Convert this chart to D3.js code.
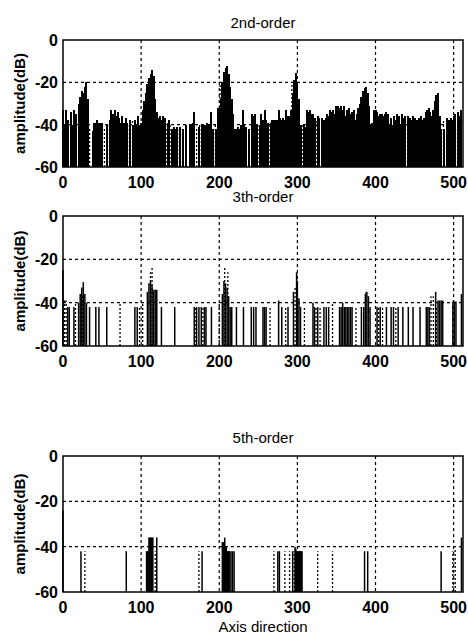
<!DOCTYPE html>
<html>
<head>
<meta charset="utf-8">
<script src="https://cdn.jsdelivr.net/npm/d3@7.9.0/dist/d3.min.js"></script>
<style>
  body { margin: 0; background: #fff; }
  svg { display: block; }
  text { font-family: "Liberation Sans", Arial, sans-serif; fill: #000; }
</style>
</head>
<body>
<svg id="chart" width="468" height="640"></svg>
<script>
// tick labels
const xTicks = [0, 100, 200, 300, 400, 500];
const yTicks = [0, -20, -40, -60];

// 2nd-order, solid stems, one value every 2 bins (null = no stem)
const order2Solid = [
  -33, -40, -33, -38, null, -34, -40, -33, -35, null,
  -30, -27, -24, -25, -22, -20, -28, null, null, -43,
  -39, -39, -38, -39, -39, -39, null, null, -40, null,
  -38, -33, -35, -33, -36, -34, -37, -39, -36, -39,
  -37, -39, null, -38, null, -40, -38, -40, -36, -40,
  -39, -33, -29, -25, -21, -18, -16, -14, -17, -28,
  -34, -37, -36, -38, -36, -37, null, -39, -38, null,
  -42, -41, -42, -41, null, -41, null, -42, null, -40,
  null, -40, -40, -39, -34, null, null, -41, null, -40,
  -40, -40, -39, -40, -40, -34, -42, null, -42, -32,
  -32, -28, -20, -15, -13, -12.5, -16, -22, -28, -35,
  -42, -42, -41, -42, -40, -33, -40, -41, null, -42,
  null, -35, -36, -35, -40, null, -40, -35, -38, -33,
  -38, -39, null, -39, -38, -38, -38, -38, -33, -37,
  -38, -37, -38, -33, -36, -36, -33, -25, -19, -15.5,
  -20, -28, -40, null, -40, -41, -33, -34, -33, -35,
  -35, -37, null, -36, -37, null, -37, -38, -37, -35,
  -36, -33, -34, -33, -35, -31, -31, -32, -31, -33,
  -31, -36, -33, -32, -35, -34, -33, -38, -35, -32,
  -30, -27, -24, -22.5, -22, -25, -31, -40, -39, -33,
  -33, -34, -36, -35, -35, -36, -35, -34, -35, -40,
  -37, -40, -36, -38, -35, -36, -40, -35, -37, -36,
  null, -36, -37, -38, -36, -37, -38, -38, -37, -36,
  -38, -37, -34, -33, -32, -34, -36, -33, -29, -26,
  -25, -36, -42, null, -42, null, -37, -38, -37, -38,
  -36, -35, null, -34, -36, -33
];
// 2nd-order, dotted stems [bin, dB]
const order2Dotted = [
  [14, -37], [17, -40], [34, -42], [53, -41], [57, -40], [85, -40], [89, -38],
  [105, -35], [107, -31], [133, -41], [137, -40], [149, -42], [153, -41],
  [157, -42], [171, -41], [175, -40], [195, -40], [201, -21], [245, -38],
  [251, -40], [265, -39], [287, -40], [293, -20], [307, -40], [325, -38],
  [331, -38], [401, -38], [413, -40], [441, -36], [447, -38], [475, -33],
  [487, -38], [501, -36], [505, -40]
];

// 3th-order
const order3Solid = [
  [0, -25], [6, -42], [8, -42], [14, -42], [20, -40], [22, -36], [24, -33],
  [26, -30.5], [28, -36], [30, -40], [34, -42], [42, -42], [46, -42], [56, -42],
  [92, -42], [95, -42], [108, -35], [110, -31], [112, -30], [114, -32],
  [116, -34], [118, -34], [120, -34], [126, -42], [143, -42], [168, -42],
  [171, -42], [174, -42], [177, -42], [181, -42], [183, -42], [190, -42],
  [204, -36], [206, -30], [208, -31], [210, -33], [212, -37], [214, -42],
  [216, -42], [222, -42], [231, -42], [241, -42], [244, -42], [247, -42],
  [256, -42], [258, -42], [260, -42], [276, -39], [280, -42], [288, -42],
  [295, -35], [299, -26], [300, -30], [302, -38], [304, -42], [320, -40],
  [322, -42], [326, -42], [334, -42], [337, -42], [340, -42], [354, -42],
  [356, -42], [358, -40], [360, -42], [362, -42], [364, -42], [366, -42],
  [368, -42], [370, -42], [382, -42], [385, -42], [387, -36], [389, -35],
  [391, -37], [393, -42], [402, -42], [406, -42], [414, -42], [420, -42],
  [423, -42], [429, -42], [435, -42], [442, -42], [448, -42], [457, -42],
  [465, -42], [467, -42], [469, -42], [477, -35], [480, -39], [482, -39],
  [484, -39], [486, -39], [499, -39.5], [501, -39.5], [503, -39.5], [510, -36]
];
const order3Dotted = [
  [2, -39], [4, -39], [16, -40], [25, -36], [73, -40], [98, -42], [102, -40],
  [112, -26], [114, -23.5], [170, -42], [179, -42], [200, -40], [207, -24],
  [211, -26], [265, -42], [285, -42], [297, -33], [309, -42], [324, -42],
  [329, -42], [345, -40], [375, -42], [388, -34], [404, -42], [409, -42],
  [426, -42], [471, -37], [474, -37], [478, -42]
];

// 5th-order
const order5Solid = [
  [0, -24], [23, -42], [81, -42], [107, -42], [108, -42], [109, -42],
  [110, -36], [111, -36], [112, -36], [113, -36], [114, -36], [115, -36],
  [120, -36], [178, -42], [204, -38], [205, -38], [206, -38], [207, -36],
  [208, -40], [209, -40], [210, -42], [211, -42], [212, -42], [213, -42],
  [215, -42], [217, -42], [219, -42], [275, -42], [277, -42], [294, -42],
  [297, -40], [298, -41], [299, -42], [300, -42], [301, -42], [302, -42],
  [303, -42], [304, -42], [305, -42], [306, -42], [386, -42], [390, -42],
  [484, -42], [510, -36]
];
const order5Dotted = [
  [28, -42], [118, -42], [174, -42], [270, -42], [284, -42], [290, -42],
  [296, -42], [303, -42], [326, -42], [345, -42], [499, -42], [502, -41]
];

const panels = [
  { title: "2nd-order", top: 40, bottom: 167, titleY: 28, tickY: 188,
    solid: order2Solid.map((v, i) => [i * 2, v]).filter(d => d[1] !== null),
    dotted: order2Dotted, solidW: 2, crisp: true },
  { title: "3th-order", top: 216, bottom: 346, titleY: 202, tickY: 367,
    solid: order3Solid, dotted: order3Dotted, solidW: 1.5, crisp: false },
  { title: "5th-order", top: 456, bottom: 592, titleY: 443, tickY: 613,
    solid: order5Solid, dotted: order5Dotted, solidW: 1.5, crisp: false }
];

const svg = d3.select("#chart");
const left = 63, right = 463;
const x = d3.scaleLinear().domain([0, 512]).range([left, right]);

panels.forEach(p => {
  const y = d3.scaleLinear().domain([-60, 0]).range([p.bottom, p.top]);
  const g = svg.append("g");

  // grid
  g.selectAll(".gx").data(xTicks.slice(1)).enter().append("line")
    .attr("x1", d => x(d)).attr("x2", d => x(d))
    .attr("y1", p.top).attr("y2", p.bottom)
    .attr("stroke", "#000").attr("stroke-width", 1.2)
    .attr("stroke-dasharray", "3,3");
  g.selectAll(".gy").data(yTicks.slice(1, 3)).enter().append("line")
    .attr("x1", left).attr("x2", right)
    .attr("y1", d => y(d)).attr("y2", d => y(d))
    .attr("stroke", "#000").attr("stroke-width", 1.2)
    .attr("stroke-dasharray", "3,3");

  // stems
  g.selectAll(".s").data(p.solid).enter().append("line")
    .attr("x1", d => x(d[0])).attr("x2", d => x(d[0]))
    .attr("y1", y(-60)).attr("y2", d => y(d[1]))
    .attr("stroke", "#000").attr("stroke-width", p.solidW)
    .attr("shape-rendering", p.crisp ? "crispEdges" : "auto");
  g.selectAll(".d").data(p.dotted).enter().append("line")
    .attr("x1", d => x(d[0])).attr("x2", d => x(d[0]))
    .attr("y1", y(-60)).attr("y2", d => y(d[1]))
    .attr("stroke", "#000").attr("stroke-width", 1.3)
    .attr("stroke-dasharray", "2,2");

  // frame
  g.append("rect")
    .attr("x", left).attr("y", p.top)
    .attr("width", right - left).attr("height", p.bottom - p.top)
    .attr("fill", "none").attr("stroke", "#000").attr("stroke-width", 1.5);

  // tick labels
  g.selectAll(".xt").data(xTicks).enter().append("text")
    .attr("x", d => x(d)).attr("y", p.tickY)
    .attr("text-anchor", "middle")
    .style("font-size", "16px").style("font-weight", "bold")
    .text(d => d);
  g.selectAll(".yt").data(yTicks).enter().append("text")
    .attr("x", left - 5).attr("y", d => y(d) + 6)
    .attr("text-anchor", "end")
    .style("font-size", "16px").style("font-weight", "bold")
    .text(d => d);

  g.append("text")
    .attr("x", 263).attr("y", p.titleY)
    .attr("text-anchor", "middle")
    .style("font-size", "15px")
    .text(p.title);

  g.append("text")
    .attr("transform", `translate(25,${(p.top + p.bottom) / 2}) rotate(-90)`)
    .attr("text-anchor", "middle")
    .style("font-size", "15px").style("font-weight", "bold")
    .text("amplitude(dB)");
});

svg.append("text")
  .attr("x", 263).attr("y", 632)
  .attr("text-anchor", "middle")
  .style("font-size", "15px")
  .text("Axis direction");
</script>
</body>
</html>
